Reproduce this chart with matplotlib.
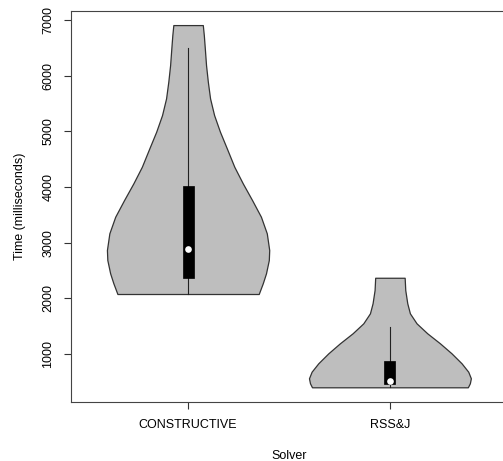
import matplotlib
matplotlib.use('Agg')
import matplotlib.pyplot as plt
import numpy as np

plt.rcParams['font.family'] = ['Liberation Sans', 'DejaVu Sans']

solvers = ['CONSTRUCTIVE', 'RSS&J']

# violin outlines: time (ms) and half width (x units)
cons_t = np.array([2078, 2270, 2449, 2688, 2868, 3168, 3466, 3766, 4066, 4364,
                   4694, 4993, 5292, 5592, 5890, 6190, 6490, 6730, 6909])
cons_hw = np.array([0.350, 0.370, 0.386, 0.400, 0.402, 0.390, 0.361, 0.317, 0.271, 0.229,
                    0.192, 0.158, 0.129, 0.109, 0.098, 0.089, 0.083, 0.078, 0.073])
rss_t = np.array([402, 474, 564, 682, 833, 1013, 1192, 1372, 1551, 1731, 1911, 2149, 2370])
rss_hw = np.array([0.386, 0.396, 0.401, 0.388, 0.355, 0.305, 0.248, 0.185, 0.132, 0.099,
                   0.086, 0.076, 0.073])

# box summaries: lower whisker, Q1, median, Q3, upper whisker
w_lo = [2078, 402]
q1 = [2360, 461]
med = [2881, 508]
q3 = [4023, 874]
w_hi = [6500, 1480]

fig = plt.figure(figsize=(5.03, 4.61), dpi=100)
ax = fig.add_axes([71/503, 59/461, 436/503, 391/461])

for i, (t, hw) in enumerate([(cons_t, cons_hw), (rss_t, rss_hw)]):
    c = i + 1
    ax.fill_betweenx(t, c - hw, c + hw, facecolor='#bebebe', edgecolor='#333333', linewidth=0.9, zorder=1)
    ax.plot([c, c], [w_lo[i], w_hi[i]], color='#222222', linewidth=0.8, zorder=2)
    ax.add_patch(plt.Rectangle((c - 0.027, q1[i]), 0.054, q3[i] - q1[i], facecolor='black',
                               edgecolor='black', linewidth=0.5, zorder=3))
    ax.plot(c, med[i], 'o', color='white', markersize=4.8, markeredgewidth=0, zorder=4)

ax.set_xlim(0.42, 2.58)
ax.set_ylim(138, 7162)
ax.set_xticks([1, 2])
ax.set_xticklabels(solvers, fontsize=9)
ax.set_yticks(np.arange(1000, 8000, 1000))
ax.set_yticklabels([str(v) for v in range(1000, 8000, 1000)], fontsize=9, rotation=90, va='center')
ax.tick_params(axis='both', length=5, width=0.8, color='#333333', pad=7)
for s in ax.spines.values():
    s.set_color('#444444')
    s.set_linewidth(0.8)
ax.spines['right'].set_visible(False)  # box runs past the image edge in the original

ax.set_xlabel('Solver', fontsize=9, labelpad=14)
ax.set_ylabel('Time (milliseconds)', fontsize=9, labelpad=12)

fig.savefig('out.png', dpi=100)
